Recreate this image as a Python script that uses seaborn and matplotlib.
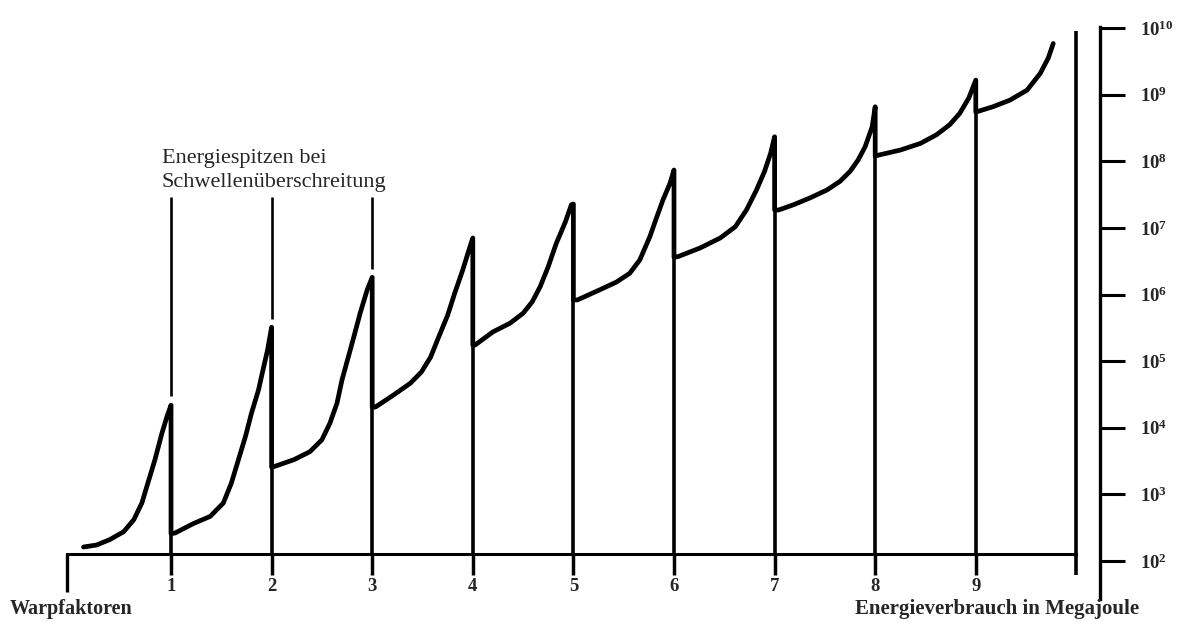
import numpy as np
import pandas as pd
import seaborn as sns
import matplotlib.pyplot as plt
from matplotlib.ticker import NullLocator

# Warpfaktor (x) und Energie als Zehnerexponent
warp = [0.13, 0.26, 0.39, 0.53, 0.63, 0.71, 0.77, 0.84, 0.91, 0.96, 1.00,
        1.00, 1.04, 1.22, 1.39, 1.52, 1.60, 1.67, 1.74, 1.80, 1.87, 1.91, 1.96, 2.00,
        2.00, 2.03, 2.22, 2.38, 2.50, 2.58, 2.65, 2.70, 2.76, 2.82, 2.88, 2.95, 3.00,
        3.00, 3.03, 3.21, 3.38, 3.49, 3.58, 3.66, 3.75, 3.82, 3.90, 3.97, 4.00,
        4.00, 4.02, 4.20, 4.37, 4.50, 4.59, 4.67, 4.75, 4.83, 4.92, 4.98, 5.00,
        5.00, 5.04, 5.26, 5.43, 5.56, 5.66, 5.76, 5.83, 5.89, 5.96, 6.00,
        6.00, 6.04, 6.26, 6.46, 6.61, 6.72, 6.82, 6.90, 6.96, 7.00,
        7.00, 7.04, 7.19, 7.35, 7.52, 7.65, 7.75, 7.83, 7.90, 7.97, 8.00,
        8.00, 8.05, 8.25, 8.45, 8.61, 8.74, 8.84, 8.93, 9.00,
        9.00, 9.02, 9.17, 9.34, 9.51, 9.64, 9.72, 9.77]
energie_exp = [2.21, 2.24, 2.32, 2.44, 2.62, 2.87, 3.17, 3.52, 3.92, 4.17, 4.34,
               2.41, 2.42, 2.56, 2.67, 2.87, 3.17, 3.52, 3.87, 4.22, 4.57, 4.84, 5.17, 5.51,
               3.41, 3.42, 3.52, 3.64, 3.82, 4.07, 4.37, 4.72, 5.05, 5.38, 5.72, 6.07, 6.26,
               4.31, 4.31, 4.49, 4.67, 4.84, 5.06, 5.36, 5.69, 6.02, 6.37, 6.71, 6.85,
               5.24, 5.24, 5.44, 5.57, 5.72, 5.89, 6.12, 6.42, 6.77, 7.09, 7.35, 7.36,
               5.92, 5.92, 6.07, 6.19, 6.32, 6.52, 6.87, 7.17, 7.42, 7.67, 7.87,
               6.56, 6.57, 6.70, 6.85, 7.02, 7.27, 7.57, 7.85, 8.12, 8.37,
               7.27, 7.27, 7.35, 7.45, 7.57, 7.70, 7.85, 8.02, 8.22, 8.52, 8.82,
               8.08, 8.10, 8.17, 8.27, 8.40, 8.55, 8.72, 8.95, 9.22,
               8.74, 8.75, 8.82, 8.92, 9.07, 9.32, 9.55, 9.77]

# Schwellen (ganze Warpfaktoren) und Spitzenwerte
schwellen = [1, 2, 3, 4, 5, 6, 7, 8, 9]
spitzen_exp = [4.34, 5.51, 6.26, 6.85, 7.36, 7.87, 8.37, 8.82, 9.22]
markiert = [1, 2, 3]

y_exponenten = [2, 3, 4, 5, 6, 7, 8, 9, 10]
y_labels = [r'$10^{%d}$' % k for k in y_exponenten]

df = pd.DataFrame({'warp': warp, 'energie': [10 ** e for e in energie_exp]})

sns.set_style('white')
plt.rcParams['font.family'] = ['Liberation Serif', 'DejaVu Serif']
plt.rcParams['mathtext.fontset'] = 'custom'
plt.rcParams['mathtext.rm'] = 'Liberation Serif:bold'
plt.rcParams['mathtext.default'] = 'rm'

fig = plt.figure(figsize=(11.8, 6.22), dpi=100)
ax = fig.add_axes([0, 0, 1, 1])
ax.set_yscale('log')
ax.set_xlim(-0.70, 11.03)
ax.set_ylim(10 ** 1.084, 10 ** 10.423)

achse_y = 10 ** 2.105

# Kurve
sns.lineplot(data=df, x='warp', y='energie', estimator=None, sort=False,
             color='black', linewidth=3.4, ax=ax)
ax.lines[-1].set_solid_joinstyle('round')
ax.lines[-1].set_solid_capstyle('round')

# Senkrechte Linien an den Schwellen
ax.vlines(schwellen, achse_y, [10 ** p for p in spitzen_exp],
          color='black', linewidth=2.6)
# Hinweislinien zur Beschriftung
ax.vlines(markiert, [10 ** (spitzen_exp[m - 1] + 0.13) for m in markiert],
          10 ** 7.47, color='black', linewidth=1.9)
ax.text(0.91, 10 ** 7.98, 'Energiespitzen bei', fontsize=16, va='baseline')
ax.text(0.91, 10 ** 7.62, 'Schwellenüberschreitung', fontsize=16, va='baseline')

# Achsenenden
ax.plot([-0.03, -0.03], [achse_y, 10 ** 1.535], color='black', linewidth=2.4,
        solid_capstyle='butt')
ax.plot([10.0, 10.0], [10 ** 1.79, 10 ** 9.96], color='black', linewidth=2.6,
        solid_capstyle='butt')

# x-Achse
for s in ['top', 'left']:
    ax.spines[s].set_visible(False)
ax.spines['bottom'].set_position(('data', achse_y))
ax.spines['bottom'].set_bounds(-0.03, 10.0)
ax.spines['bottom'].set_linewidth(2.2)
ax.spines['bottom'].set_color('black')
ax.set_xticks(schwellen)
ax.set_xticklabels([str(s) for s in schwellen], fontsize=13.5, fontweight='bold')
ax.tick_params(axis='x', direction='out', length=15, width=2.5, pad=2,
               color='black', bottom=True)

# y-Achse rechts
ax.spines['right'].set_position(('data', 10.23))
ax.spines['right'].set_bounds(10 ** 1.43, 10 ** 10.02)
ax.spines['right'].set_linewidth(2.4)
ax.spines['right'].set_color('black')
ax.yaxis.tick_right()
ax.set_yticks([10 ** k for k in y_exponenten])
ax.set_yticklabels(y_labels, fontsize=13.5)
ax.yaxis.set_minor_locator(NullLocator())
ax.tick_params(axis='y', direction='out', length=18, width=2.2, pad=11,
               color='black', right=True, left=False)

ax.set_xlabel('')
ax.set_ylabel('')
ax.grid(False)

fig.text(10 / 1180, 1 - 609 / 622, 'Warpfaktoren', fontsize=14.5,
         fontweight='bold', ha='left', va='center')
fig.text(997 / 1180, 1 - 609 / 622, 'Energieverbrauch in Megajoule',
         fontsize=15, fontweight='bold', ha='center', va='center')

fig.savefig('out.png', dpi=100)
